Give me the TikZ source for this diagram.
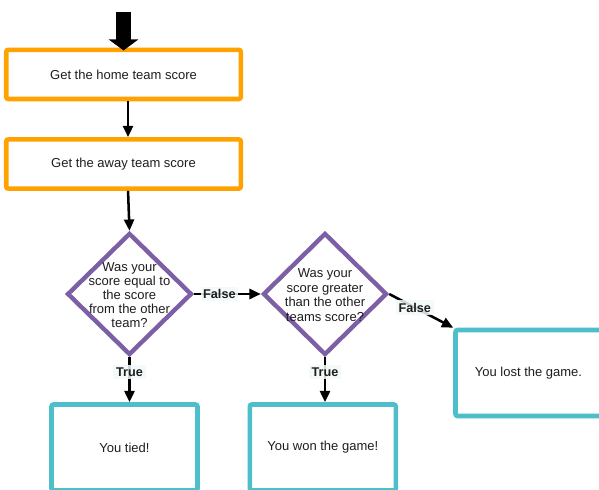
\documentclass[tikz,border=0pt]{standalone}
\usepackage{fontspec}
\setmainfont{Liberation Sans}
\usetikzlibrary{shapes.geometric,arrows.meta}
\definecolor{stepor}{HTML}{FFA200}
\definecolor{decpur}{HTML}{7D5FA6}
\definecolor{endteal}{HTML}{4CBFCB}
\definecolor{ink}{HTML}{1E1E1E}
\definecolor{lblbg}{HTML}{F3F9FA}

\begin{document}
\begin{tikzpicture}[x=0.75pt,y=-0.75pt,
  txt/.style={font=\fontsize{9.75pt}{10.5pt}\selectfont, text=ink},
  stepbox/.style={draw=stepor, line width=3.4pt, rounded corners=1.5pt,
    minimum width=175.9pt, minimum height=36.9pt, inner sep=0pt, txt},
  decision/.style={diamond, draw=decpur, line width=3.3pt, aspect=1,
    minimum width=93.5pt, minimum height=91.5pt, inner sep=0pt},
  dtext/.style={txt, align=center, inner sep=0pt},
  endbox/.style={draw=endteal, line width=3.4pt, rounded corners=1.5pt,
    minimum width=109.5pt, minimum height=64.5pt, inner sep=0pt, txt},
  conn/.style={draw=black, line width=1.9pt, -{Triangle[length=8.5pt,width=7.5pt]}},
  lbl/.style={font=\bfseries\fontsize{9.5pt}{10pt}\selectfont, text=ink,
    fill=lblbg, fill opacity=0.85, text opacity=1, inner sep=2pt}]

\useasboundingbox (0,0) rectangle (599,489);
\clip (0,0) rectangle (599,489);
\fill[white] (0,0) rectangle (599,489);

% process steps
\node[stepbox] (home) at (123.5,74.4) {Get the home team score};
\node[stepbox] (away) at (123.5,164) {Get the away team score};

% decisions
\node[decision] (eq) at (129.5,294) {};
\node[dtext] (eqtext) at (129.5,295) {Was your\\score equal to\\the score\\from the other\\team?};
\node[decision, minimum width=93pt] (gt) at (325,294) {};
\node[dtext, font=\fontsize{9.75pt}{10.9pt}\selectfont] (gttext) at (325,295) {Was your\\score greater\\than the other\\teams score?};

% outcomes
\node[endbox] (tied) at (124.5,447.5) {You tied!};
\node[endbox] (won) at (322.8,447.5) {You won the game!};
\node[endbox] (lost) at (528.5,373) {You lost the game.};

% entry arrow
\coordinate (entry) at (123.5,12);
\draw[line width=11.25pt, -{Triangle[length=8.25pt,width=21.75pt]}] (entry) -- ([yshift=-2.2pt]home.north);

% connectors
\draw[conn] ([xshift=3.4pt]home.south) -- ([xshift=3.4pt]away.north);
\draw[conn] ([xshift=3.4pt]away.south) -- (eq.north);
\draw[conn] (eq.east) -- node[lbl, pos=0.38] (f1) {False} (gt.west);
\draw[conn] (eq.south) -- node[lbl, pos=0.33] (t1) {True} (eq.south |- tied.north);
\draw[conn] (gt.south) -- node[lbl, pos=0.33] (t2) {True} (gt.south |- won.north);
\draw[conn] (gt.east) -- node[lbl, pos=0.4] (f2) {False} (lost.north west);
\end{tikzpicture}
\end{document}
